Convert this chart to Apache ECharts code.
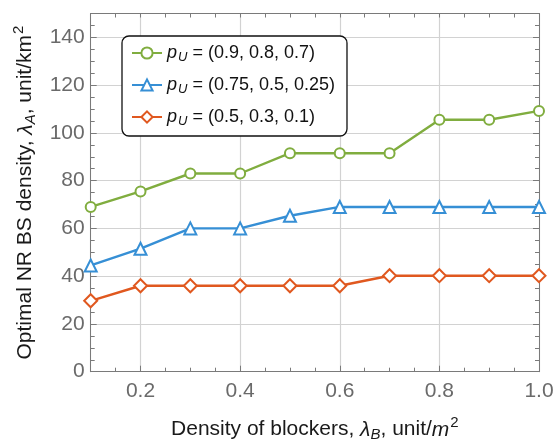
<!DOCTYPE html>
<html>
<head>
<meta charset="utf-8">
<script src="https://cdn.jsdelivr.net/npm/echarts@6/dist/echarts.min.js"></script>
<style>
  html, body { margin: 0; padding: 0; background: #fff; }
  #chart { width: 553px; height: 439px; }
</style>
</head>
<body>
<div id="chart"></div>
<script>
// Blocker density (unit/m^2) on the horizontal axis
const blockerDensity = [0.1, 0.2, 0.3, 0.4, 0.5, 0.6, 0.7, 0.8, 0.9, 1.0];

// Optimal NR BS density (unit/km^2) for each blockage probability profile
const densityHigh = [69, 75.5, 83, 83, 91.5, 91.5, 91.5, 105.5, 105.5, 109.2];
const densityMid  = [44.5, 51.5, 60, 60, 65.3, 69, 69, 69, 69, 69];
const densityLow  = [29.7, 36, 36, 36, 36, 36, 40.2, 40.2, 40.2, 40.2];

// Legend tuples p_U
const profileHigh = '(0.9, 0.8, 0.7)';
const profileMid  = '(0.75, 0.5, 0.25)';
const profileLow  = '(0.5, 0.3, 0.1)';

const colorHigh = '#80ad3f';
const colorMid  = '#368fd5';
const colorLow  = '#e0581f';

const FONT = '"Liberation Sans", Arial, sans-serif';
const frameColor = '#7a7a7a';
const gridColor = '#d2d2d2';
const tickLabelColor = '#6a6a6a';
const nameColor = '#1a1a1a';

function pairs(ys) {
  return blockerDensity.map((x, i) => [x, ys[i]]);
}

function makeSeries(name, ys, color, symbol, size) {
  return {
    name: name,
    type: 'line',
    xAxisIndex: 0,
    yAxisIndex: 0,
    data: pairs(ys),
    symbol: symbol,
    symbolSize: size,
    showSymbol: true,
    lineStyle: { color: color, width: 2.4 },
    itemStyle: { color: '#fff', borderColor: color, borderWidth: 2 },
    emphasis: { disabled: true },
    z: 3
  };
}

const nameRich = {
  t: { fontSize: 21, fontFamily: FONT, color: nameColor },
  l: { fontSize: 21, fontStyle: 'italic', fontFamily: FONT, color: nameColor },
  s: { fontSize: 15, fontStyle: 'italic', fontFamily: FONT, color: nameColor, padding: [10, 0, 0, 0] },
  m: { fontSize: 21, fontStyle: 'italic', fontFamily: FONT, color: nameColor },
  u: { fontSize: 15, fontFamily: FONT, color: nameColor, padding: [0, 0, 13, 1] }
};

const isMajorX = v => Math.abs(v * 5 - Math.round(v * 5)) < 1e-6 && v > 0.15;

const chart = echarts.init(document.getElementById('chart'), null, { renderer: 'canvas' });

chart.setOption({
  animation: false,
  backgroundColor: '#fff',
  textStyle: { fontFamily: FONT },
  grid: { left: 90.7, right: 14, top: 13.5, bottom: 67.3, containLabel: false, outerBoundsMode: 'none' },
  legend: {
    orient: 'vertical',
    left: 122,
    top: 36,
    padding: [8, 12, 8, 9],
    itemGap: 12,
    itemWidth: 30,
    itemHeight: 14,
    backgroundColor: '#fff',
    borderColor: '#111',
    borderWidth: 1.3,
    borderRadius: 7,
    data: ['high', 'mid', 'low'],
    formatter: function (name) {
      const t = name === 'high' ? profileHigh : (name === 'mid' ? profileMid : profileLow);
      return '{p|p}{s|U}{t| = ' + t + '}';
    },
    textStyle: {
      fontFamily: FONT,
      color: '#111',
      rich: {
        p: { fontSize: 18, fontStyle: 'italic', fontFamily: FONT, color: '#111' },
        s: { fontSize: 13, fontStyle: 'italic', fontFamily: FONT, color: '#111', padding: [9, 0, 0, 1] },
        t: { fontSize: 18, fontFamily: FONT, color: '#111' }
      }
    },
    z: 10
  },
  xAxis: [
    {
      // main horizontal axis: labels, gridlines, major ticks
      type: 'value',
      position: 'bottom',
      min: 0.1,
      max: 1.0,
      splitNumber: 5,
      axisLine: { show: true, onZero: false, lineStyle: { color: frameColor, width: 1 } },
      axisTick: { show: true, inside: true, length: 6, lineStyle: { color: frameColor } },
      axisLabel: {
        show: true,
        margin: 9,
        fontSize: 21,
        color: tickLabelColor,
        fontFamily: FONT,
        formatter: v => (isMajorX(v) ? v.toFixed(1) : '')
      },
      splitLine: { show: true, lineStyle: { color: gridColor, width: 1.2 } },
      name: '{t|Density of blockers, }{l|λ}{s|B}{t|, unit/}{m|m}{u|2}',
      nameLocation: 'middle',
      nameGap: 44,
      nameTextStyle: { rich: nameRich }
    },
    {
      // minor ticks every 0.05 along the bottom edge
      type: 'value',
      position: 'bottom',
      min: 0.1,
      max: 1.0,
      interval: 0.05,
      axisLine: { show: false, onZero: false },
      axisTick: { show: true, inside: true, length: 4, lineStyle: { color: frameColor } },
      axisLabel: { show: false },
      splitLine: { show: false }
    },
    {
      // top frame edge with minor ticks
      type: 'value',
      position: 'top',
      min: 0.1,
      max: 1.0,
      interval: 0.05,
      axisLine: { show: true, onZero: false, lineStyle: { color: frameColor, width: 1 } },
      axisTick: { show: true, inside: true, length: 4, lineStyle: { color: frameColor } },
      axisLabel: { show: false },
      splitLine: { show: false }
    }
  ],
  yAxis: [
    {
      type: 'value',
      position: 'left',
      min: 0,
      max: 150,
      interval: 20,
      axisLine: { show: true, onZero: false, lineStyle: { color: frameColor, width: 1 } },
      axisTick: { show: true, inside: true, length: 6, lineStyle: { color: frameColor } },
      minorTick: { show: true, splitNumber: 4, length: 4, lineStyle: { color: frameColor } },
      axisLabel: {
        show: true,
        margin: 6,
        fontSize: 21,
        color: tickLabelColor,
        fontFamily: FONT,
        formatter: v => (v <= 140 ? String(v) : '')
      },
      splitLine: { show: true, lineStyle: { color: gridColor, width: 1.2 } },
      name: '{t|Optimal NR BS density, }{l|λ}{s|A}{t|, unit/km}{u|2}',
      nameLocation: 'middle',
      nameGap: 51,
      nameTextStyle: { rich: nameRich }
    },
    {
      type: 'value',
      position: 'right',
      min: 0,
      max: 150,
      interval: 20,
      axisLine: { show: true, onZero: false, lineStyle: { color: frameColor, width: 1 } },
      axisTick: { show: true, inside: true, length: 6, lineStyle: { color: frameColor } },
      minorTick: { show: true, splitNumber: 4, length: 4, lineStyle: { color: frameColor } },
      axisLabel: { show: false },
      splitLine: { show: false }
    }
  ],
  series: [
    makeSeries('high', densityHigh, colorHigh, 'circle', 10),
    makeSeries('mid', densityMid, colorMid, 'triangle', 12),
    makeSeries('low', densityLow, colorLow, 'diamond', 13)
  ]
});
</script>
</body>
</html>
